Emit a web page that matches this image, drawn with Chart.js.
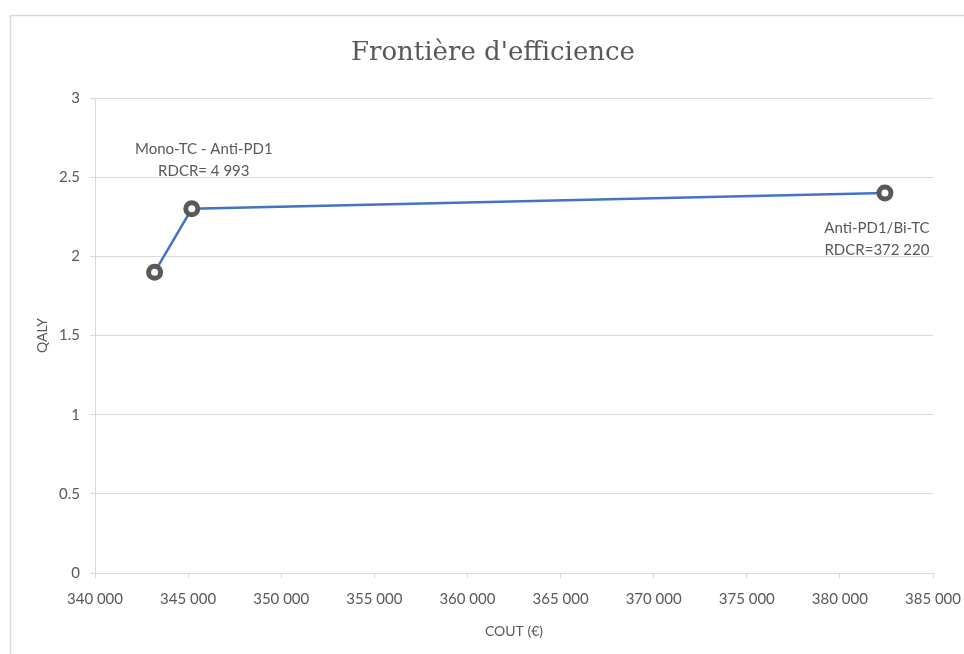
<!DOCTYPE html>
<html lang="fr">
<head>
<meta charset="utf-8">
<title>Frontière d'efficience</title>
<script src="https://cdn.jsdelivr.net/npm/chart.js@4/dist/chart.umd.min.js"></script>
<style>
  html, body { margin: 0; padding: 0; background: #fff; }
</style>
</head>
<body>
<canvas id="chart" width="964" height="654"></canvas>
<script>
// strategies on the frontier
let couts = [343200, 345197, 382419];
let qalys = [1.9, 2.3, 2.4];
let etiquettes = [
    [],
    ["Mono-TC - Anti-PD1", "RDCR= 4 993"],
    ["Anti-PD1/Bi-TC", "RDCR=372 220"]
];
// label offsets from the point (px)
let decalages = [null, [12, -60], [-8, 35]];
let titre = "Frontière d'efficience";

let gris = "#595959";
let grille = "#d9d9d9";
let police = "Lato, 'Open Sans', sans-serif";

function espaces(v) {
    return v.toString().replace(/\B(?=(\d{3})+(?!\d))/g, " ");
}

// frame around the chart + title
const cadre = {
    id: "cadre",
    beforeDraw(chart) {
        let ctx = chart.ctx;
        ctx.save();
        ctx.fillStyle = "#fff";
        ctx.fillRect(0, 0, chart.width, chart.height);
        ctx.strokeStyle = grille;
        ctx.lineWidth = 1.5;
        ctx.beginPath();
        ctx.moveTo(10.5, chart.height);
        ctx.lineTo(10.5, 15.5);
        ctx.lineTo(chart.width, 15.5);
        ctx.stroke();

        ctx.fillStyle = gris;
        ctx.font = "26px 'DejaVu Serif', serif";
        ctx.textAlign = "center";
        ctx.textBaseline = "middle";
        ctx.fillText(titre, 493, 53);
        ctx.restore();
    }
};

// text next to the points
const etiquettesPlugin = {
    id: "etiquettes",
    afterDatasetsDraw(chart) {
        let ctx = chart.ctx;
        let pts = chart.getDatasetMeta(0).data;
        ctx.save();
        ctx.fillStyle = gris;
        ctx.font = "15px " + police;
        ctx.textAlign = "center";
        ctx.textBaseline = "middle";
        pts.forEach((p, i) => {
            let lignes = etiquettes[i];
            if (!lignes.length) return;
            let d = decalages[i];
            lignes.forEach((t, j) => {
                ctx.fillText(t, p.x + d[0], p.y + d[1] + j * 22);
            });
        });
        ctx.restore();
    }
};

new Chart(document.getElementById("chart"), {
    type: "scatter",
    data: {
        datasets: [{
            data: couts.map((c, i) => ({ x: c, y: qalys[i] })),
            showLine: true,
            borderColor: "#4472C4",
            borderWidth: 2.5,
            pointRadius: 6,
            pointHoverRadius: 6,
            pointBorderWidth: 5,
            pointBorderColor: gris,
            pointBackgroundColor: "#fff"
        }]
    },
    options: {
        responsive: false,
        animation: false,
        events: [],
        layout: { padding: { top: 98, left: 10, right: 31, bottom: 0 } },
        plugins: {
            legend: { display: false },
            tooltip: { enabled: false },
            title: { display: false }
        },
        scales: {
            x: {
                type: "linear",
                min: 340000,
                max: 385000,
                afterFit(scale) {
                    scale.height = 81;
                    scale.paddingLeft = 0;
                    scale.paddingRight = 0;
                },
                ticks: {
                    stepSize: 5000,
                    color: gris,
                    font: { family: police, size: 15 },
                    padding: 12,
                    maxRotation: 0,
                    callback: (v) => espaces(v)
                },
                grid: { drawOnChartArea: false, drawTicks: true, tickLength: 5, color: grille },
                border: { color: grille },
                title: {
                    display: true,
                    text: "COUT (€)",
                    color: gris,
                    font: { family: police, size: 14 },
                    padding: { top: 0, bottom: 14 }
                }
            },
            y: {
                min: 0,
                max: 3,
                afterFit(scale) {
                    scale.width = 85;
                    scale.paddingTop = 0;
                    scale.paddingBottom = 0;
                },
                ticks: {
                    stepSize: 0.5,
                    color: gris,
                    font: { family: police, size: 15 },
                    padding: 10,
                    callback: (v) => String(v)
                },
                grid: { color: grille, tickLength: 5 },
                border: { color: grille },
                title: {
                    display: true,
                    text: "QALY",
                    color: gris,
                    font: { family: police, size: 14 },
                    padding: { top: 24, bottom: 0 }
                }
            }
        }
    },
    plugins: [cadre, etiquettesPlugin]
});
</script>
</body>
</html>
